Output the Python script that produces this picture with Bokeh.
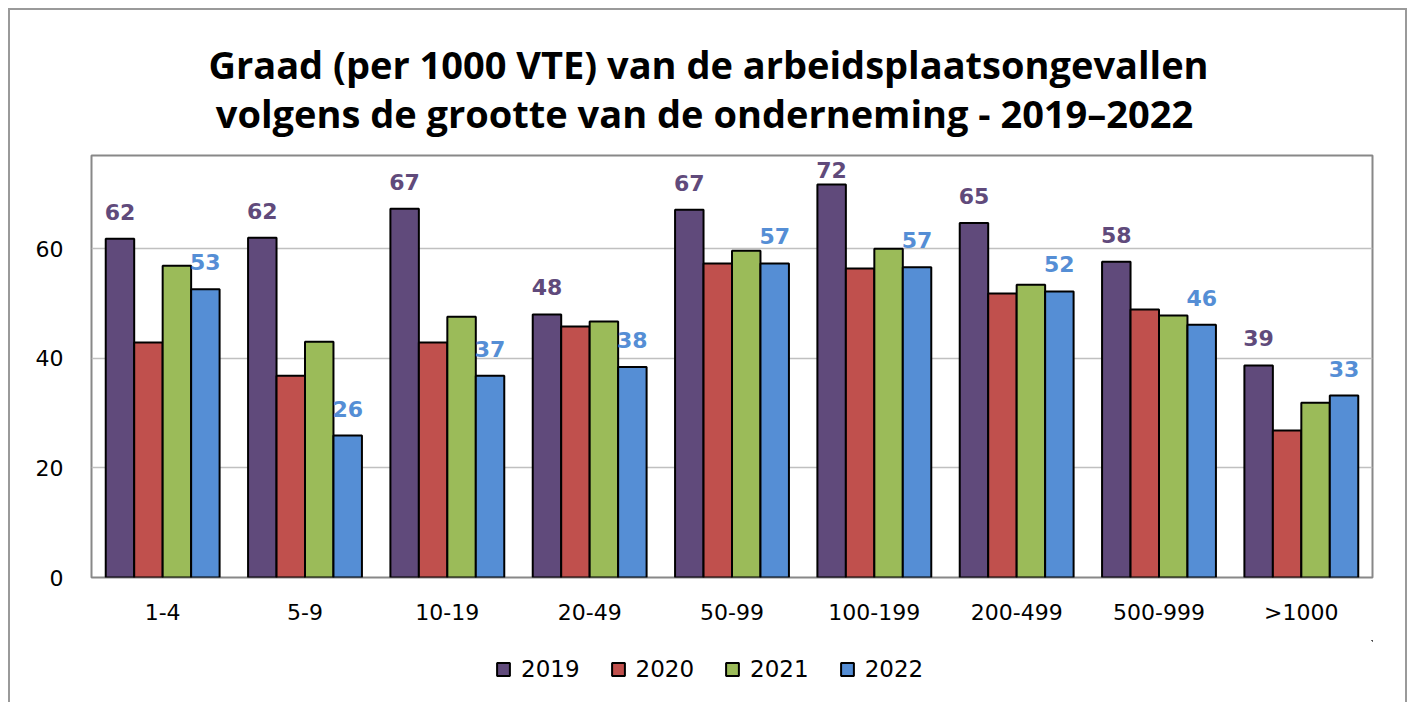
from bokeh.plotting import figure
from bokeh.models import ColumnDataSource, FactorRange, Legend, LegendItem, LabelSet, Label
from bokeh.layouts import column
from bokeh.core.properties import value
from bokeh.transform import dodge
from bokeh.embed import file_html
from bokeh.resources import INLINE

categories = ["1-4", "5-9", "10-19", "20-49", "50-99", "100-199", "200-499", "500-999", ">1000"]
years = ["2019", "2020", "2021", "2022"]
v2019 = [61.8, 62.0, 67.3, 48.0, 67.1, 71.7, 64.7, 57.6, 38.7]
v2020 = [42.9, 36.8, 42.9, 45.8, 57.3, 56.4, 51.8, 48.9, 26.8]
v2021 = [56.9, 43.0, 47.6, 46.7, 59.6, 60.0, 53.4, 47.8, 31.9]
v2022 = [52.6, 25.9, 36.8, 38.4, 57.3, 56.6, 52.2, 46.1, 33.2]
colors = ["#604A7B", "#C0504D", "#9BBB59", "#558ED5"]
title_lines = ["Graad (per 1000 VTE) van de arbeidsplaatsongevallen",
               "volgens de grootte van de onderneming - 2019\u20132022"]

YMAX = 77
W = 1413
FRAME_L, FRAME_R, FRAME_T, FRAME_B = 91, 1372, 155, 577
H0 = 150                 # title strip
H1 = 490                 # chart
H2 = 62                  # legend strip
px_per_unit = (FRAME_B - FRAME_T) / YMAX


def label_offsets(vals):
    # keep labels inside the frame like the original chart does
    return [min(19, (YMAX - v) * px_per_unit - 22) for v in vals]


# ---- title strip (frame aligned with the chart frame; data units = page pixels)
tf = figure(width=W, height=H0, x_range=(FRAME_L, FRAME_R), y_range=(H0, 0),
            output_backend="svg", toolbar_location=None, min_border=0,
            min_border_left=FRAME_L, min_border_right=W - FRAME_R,
            min_border_top=0, min_border_bottom=0,
            x_axis_location=None, y_axis_location=None,
            border_fill_color=None, background_fill_color=None)
tf.grid.grid_line_color = None
tf.outline_line_color = None
for txt, xc, yb in [(title_lines[0], 708, 63), (title_lines[1], 704, 112)]:
    tf.add_layout(Label(x=xc, y=yb, text=txt, text_align="center", text_baseline="alphabetic",
                        text_font="Open Sans", text_font_style="bold",
                        text_font_size="38px", text_color="black"))

# ---- chart
src = ColumnDataSource(dict(
    cat=categories, y2019=v2019, y2020=v2020, y2021=v2021, y2022=v2022,
    l2019=[str(round(v)) for v in v2019],
    l2022=[str(round(v)) for v in v2022],
    o2019=label_offsets(v2019),
    o2022=label_offsets(v2022),
))

p = figure(x_range=FactorRange(*categories), y_range=(0, YMAX),
           width=W, height=H1, output_backend="svg", toolbar_location=None,
           title=None, min_border_left=FRAME_L, min_border_right=W - FRAME_R,
           min_border_top=FRAME_T - H0, min_border_bottom=H0 + H1 - FRAME_B,
           border_fill_color=None)

offsets = [-0.3, -0.1, 0.1, 0.3]
for yr, col, off in zip(years, colors, offsets):
    p.vbar(x=dodge("cat", off, range=p.x_range), top="y" + yr, width=0.2, source=src,
           fill_color=col, line_color="black", line_width=2)

for yr, col, off in [("2019", colors[0], -0.3), ("2022", colors[3], 0.3)]:
    lab = LabelSet(x=dodge("cat", off, range=p.x_range), y="y" + yr, text="l" + yr, source=src,
                   text_align="center", text_baseline="alphabetic", y_offset="o" + yr,
                   text_font=value("DejaVu Sans"), text_font_style="bold",
                   text_font_size=value("22px"), text_color=col)
    p.add_layout(lab)

p.outline_line_color = "#888888"
p.outline_line_width = 2
p.xgrid.grid_line_color = None
p.ygrid.grid_line_color = "#c0c0c0"
p.ygrid.grid_line_width = 1.5
p.yaxis.ticker = [0, 20, 40, 60]
p.yaxis.axis_line_color = None
p.yaxis.major_tick_line_color = None
p.yaxis.minor_tick_line_color = None
p.yaxis.major_label_text_font = "DejaVu Sans"
p.yaxis.major_label_text_font_size = "22px"
p.yaxis.major_label_text_color = "black"
p.yaxis.major_label_standoff = 22
p.xaxis.axis_line_color = None
p.xaxis.major_tick_line_color = None
p.xaxis.minor_tick_line_color = None
p.xaxis.major_label_text_font = "DejaVu Sans"
p.xaxis.major_label_text_font_size = "22px"
p.xaxis.major_label_text_color = "black"
p.xaxis.major_label_standoff = 16

# ---- legend strip
lg = figure(width=W, height=H2, x_range=(0, 1), y_range=(0, 1), output_backend="svg",
            toolbar_location=None, min_border=0, min_border_left=FRAME_L,
            min_border_right=W - FRAME_R, min_border_top=0, min_border_bottom=0,
            x_axis_location=None, y_axis_location=None, border_fill_color=None,
            background_fill_color=None)
lg.grid.grid_line_color = None
lg.outline_line_color = None
dummies = [lg.vbar(x=[5], top=[5], bottom=[4], width=0.1, fill_color=c, line_color="black",
                   line_width=2)
           for c in colors]
legend = Legend(items=[LegendItem(label=yr, renderers=[r]) for yr, r in zip(years, dummies)],
                orientation="horizontal", location=(404, 20), border_line_color=None,
                label_text_font="DejaVu Sans", label_text_font_size="23px",
                label_text_color="black",
                glyph_width=16, glyph_height=16, spacing=30, label_standoff=10,
                margin=0, padding=0, background_fill_alpha=0)
lg.add_layout(legend)

layout = column(tf, p, lg, spacing=0)
layout.styles = {"box-shadow": "inset 8px 8px 0 0 #ffffff, inset -6px 0 0 0 #ffffff, "
                               "inset 10px 10px 0 0 #9a9a9a, inset -8px 0 0 0 #9a9a9a"}

open("out.html", "w").write(file_html(layout, INLINE))
